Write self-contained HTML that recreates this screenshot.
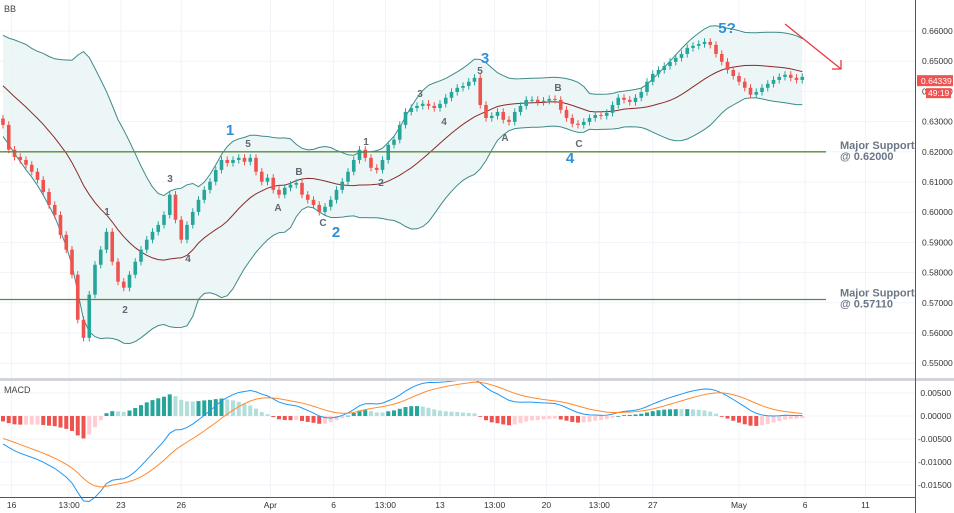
<!DOCTYPE html>
<html><head><meta charset="utf-8"><style>
body{margin:0;background:#fff;font-family:"Liberation Sans",sans-serif}
svg{display:block}
</style></head><body>
<svg id="c" width="954" height="513" xmlns="http://www.w3.org/2000/svg"></svg>
<script>
const priceTicks=[0.66,0.65,0.64,0.63,0.62,0.61,0.60,0.59,0.58,0.57,0.56,0.55];
const macdTicks=[0.005,0,-0.005,-0.01,-0.015];
const timeLabels=["16","13:00","23","26","Apr","6","13:00","13","13:00","20","13:00","27","May","6","11"];
const timeIdx=[1.5,11.5,20.5,31,46.5,57.5,66.5,76,85.5,94.5,103.7,113,128,139.5,150];
const history=[0.655,0.657,0.654,0.652,0.650,0.651,0.648,0.646,0.647,0.644,0.642,0.640,0.641,0.638,0.636,0.634,0.635,0.632,0.630,0.631];
const closes=[
0.6289,0.6207,0.6183,0.6173,0.6157,0.6134,0.6107,0.6067,0.6024,0.5991,
0.5925,0.5876,0.5793,0.5644,0.5584,0.5727,0.5826,0.5876,0.5935,0.5836,
0.5770,0.5750,0.5793,0.5836,0.5876,0.5909,0.5935,0.5958,0.5991,0.6058,
0.5975,0.5909,0.5958,0.6001,0.6041,0.6074,0.6101,0.6140,0.6173,0.6163,
0.6173,0.6180,0.6167,0.6180,0.6134,0.6101,0.6114,0.6074,0.6058,0.6081,
0.6091,0.6097,0.6058,0.6041,0.6024,0.6001,0.6018,0.6041,0.6074,0.6101,
0.6134,0.6173,0.6207,0.6180,0.6147,0.6140,0.6173,0.6223,0.6240,0.6289,
0.6332,0.6345,0.6352,0.6359,0.6352,0.6345,0.6359,0.6379,0.6398,0.6412,
0.6418,0.6432,0.6445,0.6355,0.6312,0.6319,0.6332,0.6306,0.6299,0.6332,
0.6352,0.6372,0.6372,0.6365,0.6369,0.6375,0.6372,0.6339,0.6312,0.6293,
0.6289,0.6299,0.6312,0.6322,0.6319,0.6329,0.6355,0.6379,0.6372,0.6365,
0.6379,0.6398,0.6432,0.6458,0.6471,0.6484,0.6498,0.6511,0.6524,0.6544,
0.6551,0.6557,0.6564,0.6554,0.6524,0.6498,0.6471,0.6451,0.6432,0.6412,
0.6389,0.6398,0.6412,0.6425,0.6438,0.6448,0.6455,0.6445,0.6438,0.6448];

const S=document.getElementById('c');const NS='http://www.w3.org/2000/svg';
function mk(t,a,p){const e=document.createElementNS(NS,t);for(const k in a)e.setAttribute(k,a[k]);(p||S).appendChild(e);return e;}
const X0=3,DX=5.75;
const xs=i=>X0+i*DX;
const py=p=>31+(0.66-p)*3020;
const my=v=>416-v*4600;

// grid
priceTicks.forEach(p=>{const l=mk('line',{x1:0,x2:915,y1:py(p),y2:py(p),stroke:'#f0f3fa'});

});
macdTicks.forEach(v=>{const l=mk('line',{x1:0,x2:915,y1:my(v),y2:my(v),stroke:'#f0f3fa'});

});
timeIdx.forEach(t=>{const l=mk('line',{x1:xs(t),x2:xs(t),y1:0,y2:497,stroke:'#f0f3fa'});

});

// bollinger
const all=history.concat(closes);const H=history.length;
const mid=[],up=[],lo=[];
for(let i=0;i<closes.length;i++){const j=i+H;const w=all.slice(j-19,j+1);const m=w.reduce((a,b)=>a+b,0)/w.length;
const sd=Math.sqrt(w.reduce((a,b)=>a+(b-m)*(b-m),0)/w.length);mid.push(m);up.push(m+2*sd);lo.push(m-2*sd);}
const pts=a=>a.map((v,i)=>xs(i).toFixed(1)+','+py(v).toFixed(1));
const fill=mk('polygon',{points:pts(up).concat(pts(lo).reverse()).join(' '),fill:'#e8f4f4',opacity:0.8});


const ub=mk('polyline',{points:pts(up).join(' '),fill:'none',stroke:'#3f8a8a','stroke-width':1});


const lb=mk('polyline',{points:pts(lo).join(' '),fill:'none',stroke:'#3f8a8a','stroke-width':1});


const mb=mk('polyline',{points:pts(mid).join(' '),fill:'none',stroke:'#8b2a2a','stroke-width':1});



// candles
for(let i=0;i<closes.length;i++){const o=i?closes[i-1]:history[H-1];const c=closes[i];
const upc=c>=o;const col=upc?'#26a69a':'#ef5350';const x=xs(i);
const hi=Math.max(o,c)+0.0012,lw=Math.min(o,c)-0.0012;
const g=mk('g',{});


mk('line',{x1:x,x2:x,y1:py(hi),y2:py(lw),stroke:col},g);
const t=py(Math.max(o,c)),b=py(Math.min(o,c));
mk('rect',{x:x-1.8,y:t,width:3.6,height:Math.max(1,b-t),fill:col},g);}

// support lines
[[0.62,'0.62000'],[0.5711,'0.57110']].forEach(s=>{const l=mk('line',{x1:0,x2:826,y1:py(s[0]),y2:py(s[0]),stroke:'#5a8a3a','stroke-width':1.3});


const t=mk('text',{x:840,y:py(s[0])-3,'font-size':11,'font-weight':'bold',fill:'#6b7785'});t.textContent='Major Support';


const t2=mk('text',{x:840,y:py(s[0])+8,'font-size':11,'font-weight':'bold',fill:'#6b7785'});t2.textContent='@ '+s[1];

});

// wave labels
const big=[['1',230,135],['2',336,237],['3',485,63],['4',570,163],['5?',727,33]];
big.forEach(b=>{const t=mk('text',{x:b[1],y:b[2],'font-size':15,'font-weight':'bold',fill:'#2e8fd8','text-anchor':'middle'});t.textContent=b[0];

});
const small=[['1',107,215],['2',125,313],['3',170,182],['4',188,262],['5',248,147],['A',278,211],['B',299,175],['C',323,226],['1',366,145],['2',381,186],['3',420,97],['4',444,125],['5',480,74],['A',505,141],['B',558,91],['C',579,147]];
small.forEach(b=>{const t=mk('text',{x:b[1],y:b[2],'font-size':10,'font-weight':'bold',fill:'#5f6873','text-anchor':'middle'});t.textContent=b[0];

});

// arrow
const ar=mk('g',{stroke:'#e8383d','stroke-width':1.3,fill:'none'});


mk('line',{x1:785,y1:24,x2:841,y2:69},ar);mk('polyline',{points:'832,69 841,69 841,60'},ar);

// MACD
function ema(a,n){const k=2/(n+1);const r=[a[0]];for(let i=1;i<a.length;i++)r.push(a[i]*k+r[i-1]*(1-k));return r;}
const e12=ema(all,12),e26=ema(all,26);const macd=all.map((v,i)=>e12[i]-e26[i]);const sig=ema(macd,9);
const mv=macd.slice(H),sv=sig.slice(H);
for(let i=0;i<mv.length;i++){const h=mv[i]-sv[i];const ph=i?mv[i-1]-sv[i-1]:h;
const col=h>=0?(h>=ph?'#26a69a':'#b2dfdb'):(h<=ph?'#ef5350':'#ffcdd2');
const y0=my(0),y1=my(h);
const r=mk('rect',{x:xs(i)-2,y:Math.min(y0,y1),width:4,height:Math.max(0.8,Math.abs(y1-y0)),fill:col});

}
const ml=mk('polyline',{points:mv.map((v,i)=>xs(i)+','+my(v)).join(' '),fill:'none',stroke:'#2196f3','stroke-width':1});


const sl=mk('polyline',{points:sv.map((v,i)=>xs(i)+','+my(v)).join(' '),fill:'none',stroke:'#ff8a30','stroke-width':1});



// frame
mk('rect',{x:0,y:378,width:954,height:3,fill:'#d1d4dc'});
mk('line',{x1:915.5,x2:915.5,y1:0,y2:513,stroke:'#555'});
mk('line',{x1:0,x2:916,y1:497.5,y2:497.5,stroke:'#555'});
const bb=mk('text',{x:4,y:12,'font-size':9,fill:'#444'});bb.textContent='BB';


const mt=mk('text',{x:4,y:393,'font-size':9,fill:'#444'});mt.textContent='MACD';



// axes
priceTicks.forEach(p=>{const t=mk('text',{x:922,y:py(p)+3,'font-size':8.5,fill:'#333'});t.textContent=p.toFixed(5);

});
macdTicks.forEach(v=>{const t=mk('text',{x:918,y:my(v)+3,'font-size':8.5,fill:'#333'});t.textContent=(v>=0?'\u00a0':'')+v.toFixed(5);

});
timeLabels.forEach((s,i)=>{const t=mk('text',{x:xs(timeIdx[i]),y:508,'font-size':8.5,fill:'#333','text-anchor':'middle'});t.textContent=s;

});
const last=closes[closes.length-1];
const pb=mk('rect',{x:917,y:py(0.64339)-6,width:36,height:11,fill:'#ef5350'});


const pt=mk('text',{x:921,y:py(0.64339)+3,'font-size':8.5,fill:'#fff'});pt.textContent='0.64339';


const cb=mk('rect',{x:926,y:py(0.64339)+7,width:25,height:10,fill:'#ef5350'});


const ct=mk('text',{x:928,y:py(0.64339)+15,'font-size':8.5,fill:'#fff'});ct.textContent='49:19';


</script>
</body></html>
